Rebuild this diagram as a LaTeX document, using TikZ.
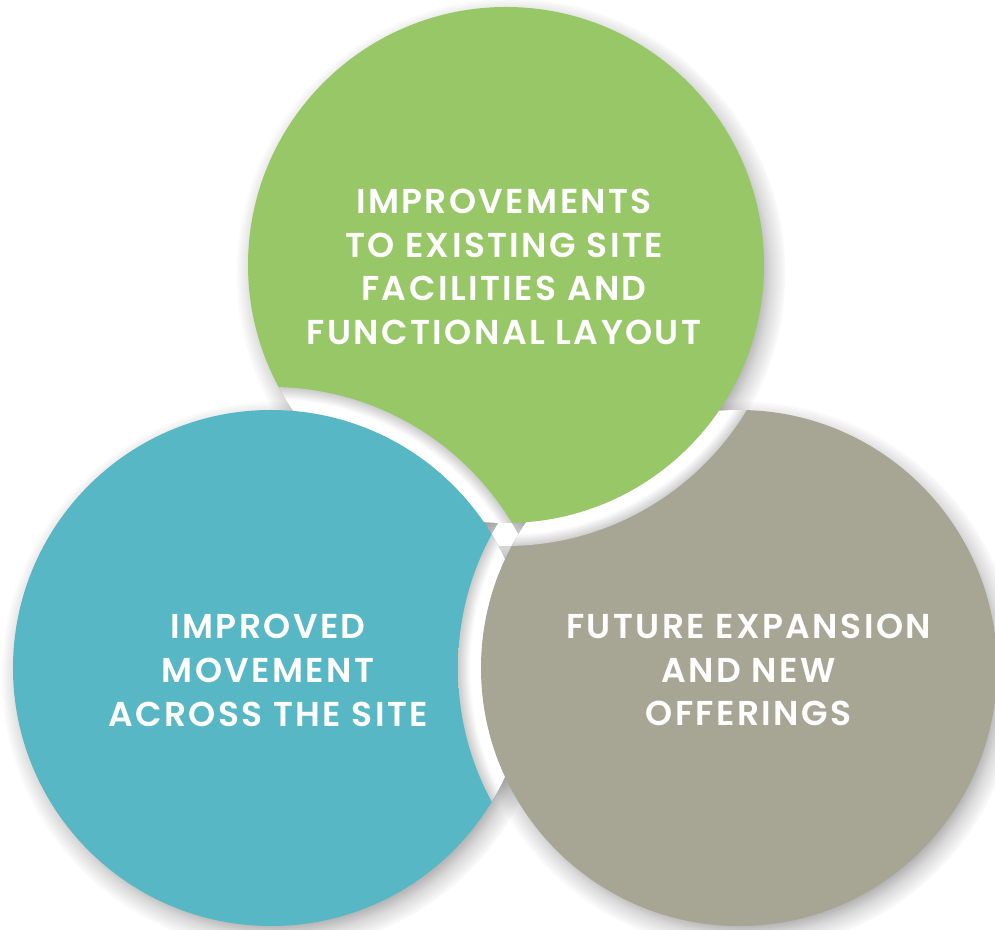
\documentclass[tikz,border=0pt]{standalone}
\usepackage{fontspec}
\usetikzlibrary{fadings}
\newfontfamily\circlefont[LetterSpace=7.0, BoldFont={* SemiBold}]{Poppins}
\definecolor{leafgreen}{HTML}{98C767}
\definecolor{tealblue}{HTML}{57B7C4}
\definecolor{stonegray}{HTML}{A7A695}
\pgfdeclareradialshading{softrimshade}{\pgfpointorigin}{color(0bp)=(white); color(22.3bp)=(white); color(23.5bp)=(black!55!white); color(25bp)=(black); color(50bp)=(black)}
\pgfdeclarefading{softrim}{\pgfuseshading{softrimshade}}
\pgfdeclareradialshading{ringshade}{\pgfpointorigin}{color(0bp)=(white); color(23.9bp)=(white); color(25bp)=(black!20); color(50bp)=(black!20)}
\newcommand{\softshadow}[2]{\fill[black, opacity=0.32, path fading=softrim] ( #1 + 5 , #2 - 8 ) circle (275);}
\newcommand{\gapfill}[6]{\begin{scope} \clip ( #1 , #2 ) circle (281); \clip ( #3 , #4 ) circle (281); \fill[white] ( #5 , #6 ) circle (281); \end{scope}}
\newcommand{\overlap}[5]{\begin{scope} \clip ( #4 , #5 ) circle (258); \shade[shading=ringshade] ( #1 , #2 ) circle (281); \end{scope}
  \begin{scope} \clip ( #4 , #5 ) circle (260); \fill[#3] ( #1 , #2 ) circle (258); \end{scope}}
\tikzset{bubbletext/.style={text=white, align=center, inner sep=0pt, font=\circlefont\bfseries\fontsize{34.5}{43.7}\selectfont}}

\begin{document}
\begin{tikzpicture}[x=1pt, y=1pt]
    \useasboundingbox (0,0) rectangle (995,929);
    \softshadow{506}{664}
    \softshadow{271}{261}
    \softshadow{739}{261}

    \gapfill{506}{664}{739}{261}{271}{261}

    \fill[leafgreen] (506,664) circle (258);
    \fill[tealblue] (271,261) circle (258);
    \fill[stonegray] (739,261) circle (258);

    \overlap{506}{664}{leafgreen}{739}{261}
    \overlap{271}{261}{tealblue}{506}{664}
    \overlap{739}{261}{stonegray}{271}{261}

    %texts
    \node[bubbletext] (greentext) at (504,662) {IMPROVEMENTS\\TO EXISTING SITE\\FACILITIES AND\\FUNCTIONAL LAYOUT};
    \node[bubbletext] (bluetext) at (268,258.5) {IMPROVED\\MOVEMENT\\ACROSS THE SITE};
    \node[bubbletext] (graytext) at (748.5,259) {FUTURE EXPANSION\\AND NEW\\OFFERINGS};
\end{tikzpicture}
\end{document}
